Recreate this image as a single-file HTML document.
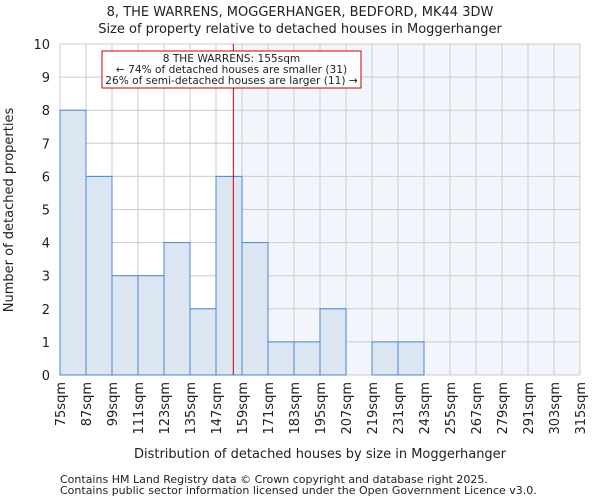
<!DOCTYPE html>
<html><head><meta charset="utf-8"><style>
body{margin:0;background:#fff;font-family:"DejaVu Sans","Liberation Sans",sans-serif}
text{font-family:"DejaVu Sans","Liberation Sans",sans-serif;fill:#222}
</style></head><body>
<svg id="chart" width="600" height="500" xmlns="http://www.w3.org/2000/svg">
<text x="300" y="16" text-anchor="middle" font-size="13">8, THE WARRENS, MOGGERHANGER, BEDFORD, MK44 3DW</text>
<text x="300" y="33" text-anchor="middle" font-size="13">Size of property relative to detached houses in Moggerhanger</text>
<g id="plot"></g>
<text x="320" y="458" text-anchor="middle" font-size="13">Distribution of detached houses by size in Moggerhanger</text>
<text transform="translate(13,210) rotate(-90)" text-anchor="middle" font-size="13">Number of detached properties</text>
<text x="60" y="483" font-size="11">Contains HM Land Registry data © Crown copyright and database right 2025.</text>
<text x="60" y="494" font-size="11">Contains public sector information licensed under the Open Government Licence v3.0.</text>
</svg>
<script>
const binEdges=[75,87,99,111,123,135,147,159,171,183,195,207,219,231,243,255,267,279,291,303,315];
const counts=[8,6,3,3,4,2,6,4,1,1,2,0,1,1,0,0,0,0,0,0];
const yTicks=[0,1,2,3,4,5,6,7,8,9,10];
const propertySize=155;
const NS="http://www.w3.org/2000/svg";
const X0=60,X1=580,Y0=375,Y1=44;
const xs=v=>X0+(v-75)/(315-75)*(X1-X0);
const ys=v=>Y0-(v/10)*(Y0-Y1);
const g=document.getElementById('plot');
function mk(t,a){const e=document.createElementNS(NS,t);for(const k in a)e.setAttribute(k,a[k]);g.appendChild(e);return e;}
let e;
e=mk('rect',{x:xs(propertySize),y:Y1,width:X1-xs(propertySize),height:Y0-Y1,fill:'#f3f5fd'});


binEdges.forEach(v=>{e=mk('line',{x1:xs(v),x2:xs(v),y1:Y1,y2:Y0,stroke:'#cccccc','stroke-width':1});

});
yTicks.forEach(v=>{e=mk('line',{x1:X0,x2:X1,y1:ys(v),y2:ys(v),stroke:'#cccccc','stroke-width':1});


e=mk('text',{x:X0-10,y:ys(v)+5,'text-anchor':'end','font-size':13});e.textContent=v;

});
counts.forEach((c,i)=>{if(c<=0)return;const x=xs(binEdges[i]),w=xs(binEdges[i+1])-x;
e=mk('rect',{x:x,y:ys(c),width:w,height:Y0-ys(c),fill:'#dce6f3',stroke:'#4a86d4','stroke-width':1});

});
binEdges.forEach(v=>{const x=xs(v);e=mk('text',{transform:`translate(${x+5},382) rotate(-90)`,'text-anchor':'end','font-size':13});e.textContent=v+'sqm';

});
e=mk('line',{x1:xs(propertySize),x2:xs(propertySize),y1:Y1,y2:Y0,stroke:'#cc0000','stroke-width':1});


e=mk('rect',{x:102,y:51,width:259,height:37,fill:'#fff',stroke:'#cc0000','stroke-width':1});


["8 THE WARRENS: 155sqm","← 74% of detached houses are smaller (31)","26% of semi-detached houses are larger (11) →"].forEach((t,i)=>{
e=mk('text',{x:231.5,y:62+i*11,'text-anchor':'middle','font-size':10.6});e.textContent=t;

});
</script>
</body></html>
